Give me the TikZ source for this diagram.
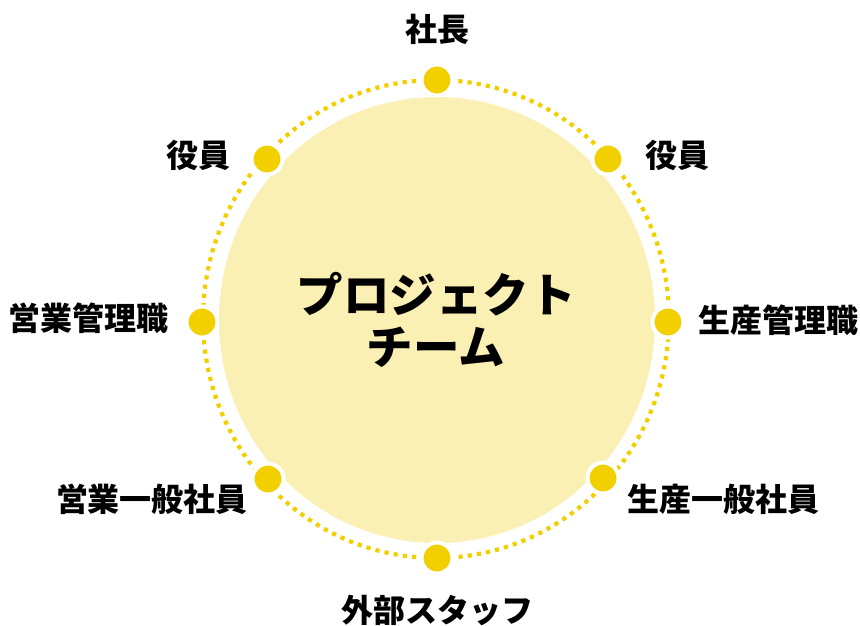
\documentclass[tikz,border=0pt]{standalone}
\usepackage{fontspec}
\newfontfamily\jp{Noto Sans CJK JP}
\definecolor{dotyellow}{RGB}{242,208,0}
\definecolor{lightfill}{RGB}{250,240,180}
\begin{document}
\begin{tikzpicture}[x=1pt,y=-1pt,
  lbl/.style={font=\jp\bfseries\fontsize{32}{36}\selectfont, inner sep=0pt, text=black},
  bigtitle/.style={font=\jp\bfseries\fontsize{46.5}{52}\selectfont, inner sep=0pt, align=center, text=black},
  member/.style={circle, fill=dotyellow, draw=white, line width=4pt, minimum size=31pt, inner sep=0pt}]
\useasboundingbox (0,0) rectangle (860,625);
% team circle
\fill[lightfill] (437,320) ellipse [x radius=218, y radius=223];
\node[bigtitle] (team) at (436,320) {プロジェクト\\チーム};
% dotted ring
\draw[dotyellow, line width=4.2pt, dash pattern=on 4.2pt off 5.1pt] (436,319) ellipse [x radius=233, y radius=239];
% member dots
\node[member] (d1) at (437,80) {};
\node[member] (d2) at (608,159) {};
\node[member] (d3) at (668,322) {};
\node[member] (d4) at (603,478) {};
\node[member] (d5) at (437,558) {};
\node[member] (d6) at (268,479) {};
\node[member] (d7) at (202,322) {};
\node[member] (d8) at (267,159) {};
% labels
\node[lbl] (l1) at (437,29) {社長};
\node[lbl] (l2) at (677,155) {役員};
\node[lbl] (l3) at (778,320) {生産管理職};
\node[lbl] (l4) at (723,499) {生産一般社員};
\node[lbl] (l5) at (437,610) {外部スタッフ};
\node[lbl] (l6) at (152,499) {営業一般社員};
\node[lbl] (l7) at (89,318) {営業管理職};
\node[lbl] (l8) at (198,155) {役員};
\end{tikzpicture}
\end{document}
